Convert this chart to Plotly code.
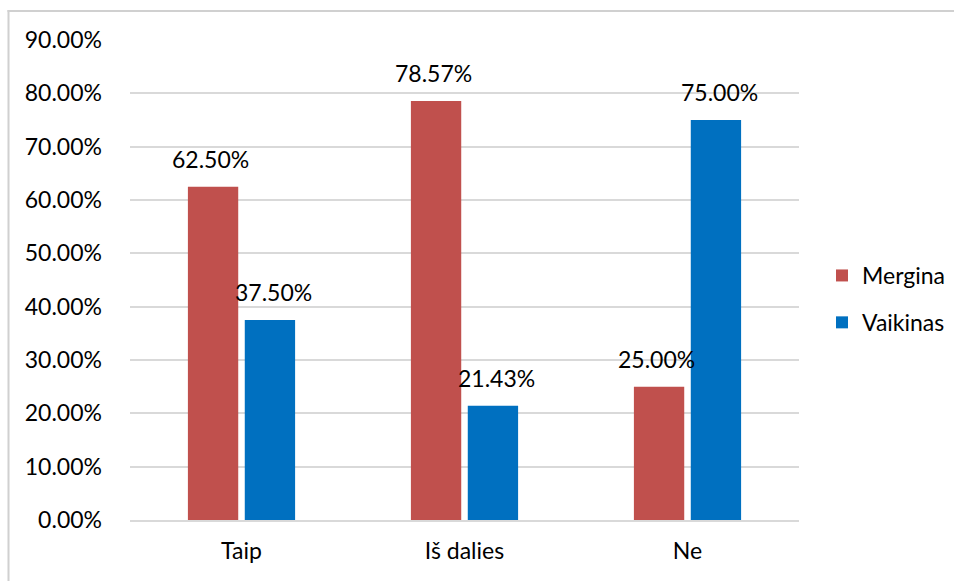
import plotly.graph_objects as go

categories = ["Taip", "Iš dalies", "Ne"]
mergina = [62.50, 78.57, 25.00]
vaikinas = [37.50, 21.43, 75.00]
tick_vals = [0, 10, 20, 30, 40, 50, 60, 70, 80, 90]
tick_text = [f"{v:.2f}%" for v in tick_vals]

FONT = "Lato"
FS = 23
fig = go.Figure()
fig.add_bar(name="Mergina", x=categories, y=mergina, marker_color="#C0504D",
            marker_line_width=0, legendgroup="m")
fig.add_bar(name="Vaikinas", x=categories, y=vaikinas, marker_color="#0070C0",
            marker_line_width=0, legendgroup="v")

for i, c in enumerate(categories):
    for j, vals in enumerate([mergina, vaikinas]):
        fig.add_annotation(x=c, y=vals[i], text=f"{vals[i]:.2f}%", showarrow=False,
                           xshift=(-31.5 if j == 0 else 31.5),
                           yshift=28, font=dict(family=FONT, size=FS, color="#000"))

PW, PH, L, T = 669, 480, 130, 40


def px_x(p):
    return (p - L) / PW


def px_y(p):
    return (T + PH - p) / PH


fig.update_layout(
    width=955, height=581,
    margin=dict(l=130, r=156, t=40, b=61, autoexpand=False),
    paper_bgcolor="white", plot_bgcolor="white",
    barmode="group", bargap=0.49, bargroupgap=0.115,
    font=dict(family=FONT, size=FS, color="#000"),
    showlegend=True,
    legend=dict(x=px_x(822), y=px_y(299), xanchor="left", yanchor="middle",
                font=dict(family=FONT, size=FS, color="#000"),
                itemwidth=30, tracegroupgap=14, traceorder="grouped"),
    xaxis=dict(showline=True, linecolor="#d9d9d9", linewidth=1.5, ticks="",
               tickfont=dict(size=FS), ticklabelstandoff=10),
    yaxis=dict(range=[0, 90], tickvals=tick_vals, ticktext=tick_text,
               showgrid=True, gridcolor="#d9d9d9", gridwidth=1.5,
               zeroline=False, showline=False, ticks="",
               tickfont=dict(size=FS), ticklabelstandoff=27),
    shapes=[
        dict(type="rect", xref="paper", yref="paper",
             x0=px_x(7.5), x1=px_x(9.5), y0=px_y(590), y1=px_y(10),
             line=dict(width=0), fillcolor="#d0d0d0", layer="above"),
        dict(type="line", xref="paper", yref="paper",
             x0=px_x(7.5), x1=px_x(954), y0=px_y(11), y1=px_y(11),
             line=dict(color="#d0d0d0", width=2), layer="above"),
    ],
)

fig.write_html("out.html", config={"displayModeBar": False},
               post_script="document.body.style.margin='0';document.body.style.overflow='hidden';")
